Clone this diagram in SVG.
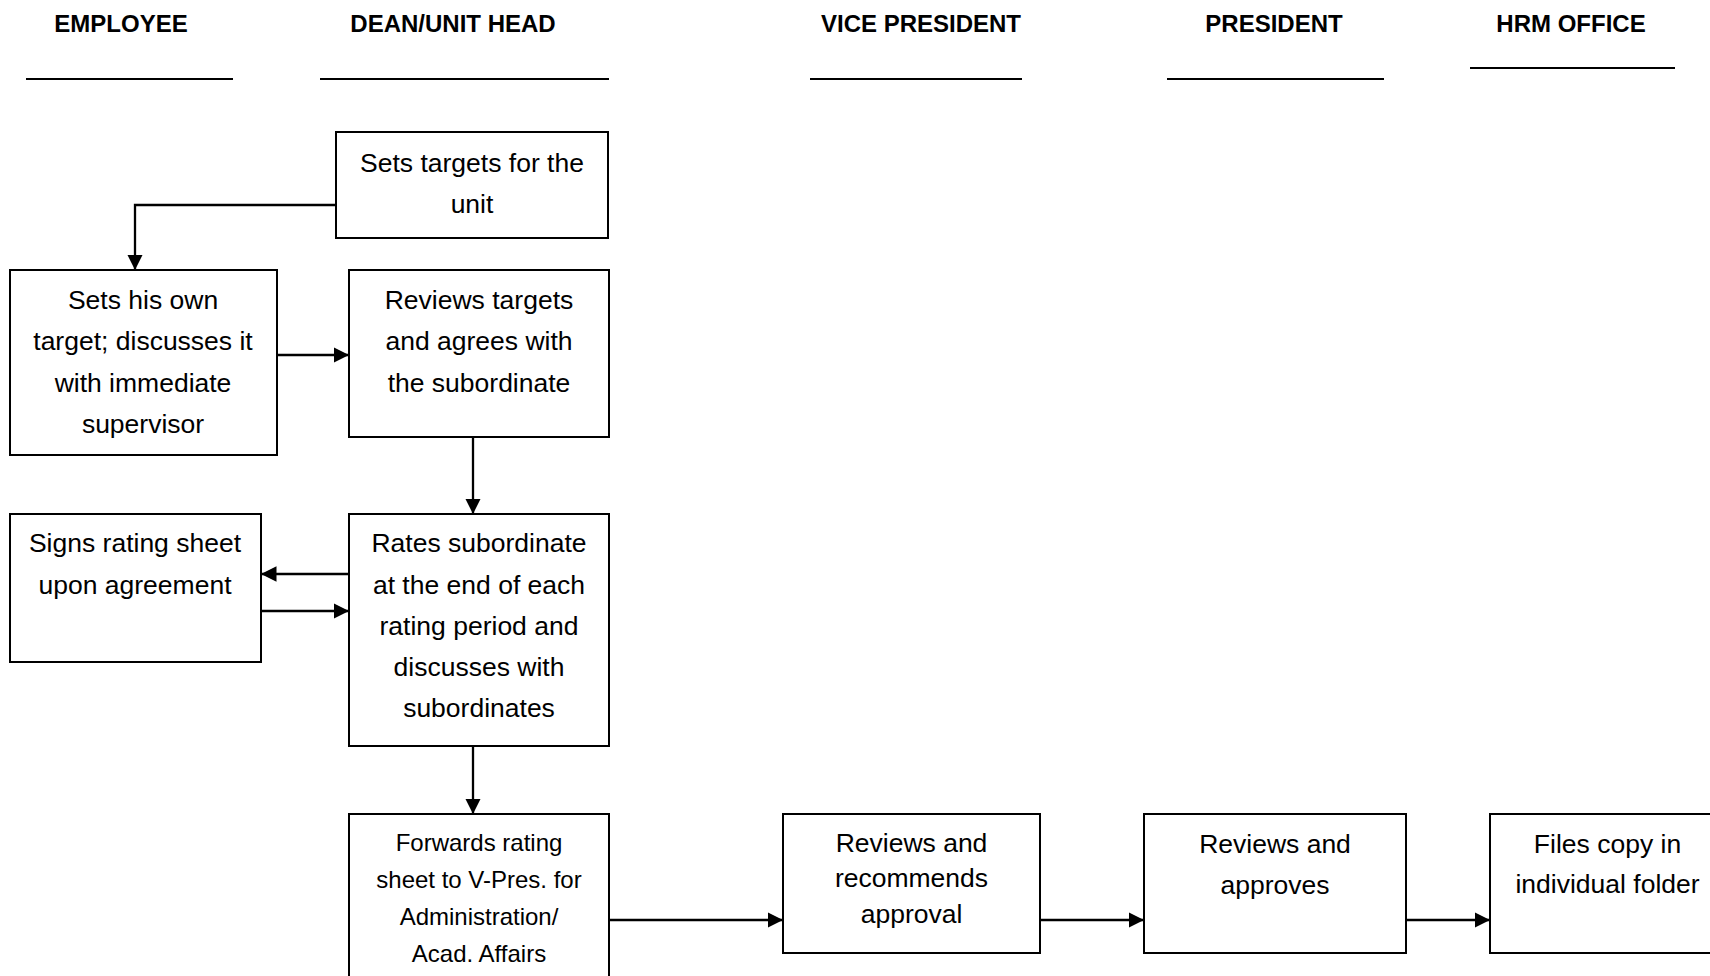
<svg xmlns="http://www.w3.org/2000/svg" width="1710" height="976" viewBox="0 0 1710 976">
  <style>
    .hdr { font-family: "Liberation Sans", Arial, sans-serif; font-weight: bold; font-size: 24px; fill: #000; text-anchor: middle; }
    .rule { stroke: #000; stroke-width: 2; }
    .box { fill: #fff; stroke: #000; stroke-width: 2; }
    .lbl { font-family: "Liberation Sans", Arial, sans-serif; font-size: 26.5px; fill: #000; text-anchor: middle; }
    .lbl-sm { font-size: 24px; }
    .conn { fill: none; stroke: #000; stroke-width: 2.3; marker-end: url(#arrow); }
  </style>
  <defs>
    <marker id="arrow" markerUnits="userSpaceOnUse" markerWidth="16" markerHeight="16" refX="15.5" refY="7.75" orient="auto">
      <path d="M0,0 L15.5,7.75 L0,15.5 Z" fill="#000"/>
    </marker>
  </defs>
  <rect width="1710" height="976" fill="#fff"/>

  <!-- swimlane headings -->
  <g id="lanes">
    <text class="hdr" x="121" y="32">EMPLOYEE</text>
    <line class="rule" x1="26" y1="79" x2="233" y2="79"/>
    <text class="hdr" x="453" y="32">DEAN/UNIT HEAD</text>
    <line class="rule" x1="320" y1="79" x2="609" y2="79"/>
    <text class="hdr" x="921" y="32">VICE PRESIDENT</text>
    <line class="rule" x1="810" y1="79" x2="1022" y2="79"/>
    <text class="hdr" x="1274" y="32">PRESIDENT</text>
    <line class="rule" x1="1167" y1="79" x2="1384" y2="79"/>
    <text class="hdr" x="1571" y="32">HRM OFFICE</text>
    <line class="rule" x1="1470" y1="68" x2="1675" y2="68"/>
  </g>

  <!-- process steps -->
  <g id="set-unit-targets">
    <rect class="box" x="336" y="132" width="272" height="106"/>
    <text class="lbl" x="472" y="172">Sets targets for the</text>
    <text class="lbl" x="472" y="213">unit</text>
  </g>
  <g id="set-own-target">
    <rect class="box" x="10" y="270" width="267" height="185"/>
    <text class="lbl" x="143" y="309">Sets his own</text>
    <text class="lbl" x="143" y="350">target; discusses it</text>
    <text class="lbl" x="143" y="392">with immediate</text>
    <text class="lbl" x="143" y="433">supervisor</text>
  </g>
  <g id="review-targets">
    <rect class="box" x="349" y="270" width="260" height="167"/>
    <text class="lbl" x="479" y="309">Reviews targets</text>
    <text class="lbl" x="479" y="350">and agrees with</text>
    <text class="lbl" x="479" y="392">the subordinate</text>
  </g>
  <g id="sign-rating-sheet">
    <rect class="box" x="10" y="514" width="251" height="148"/>
    <text class="lbl" x="135" y="552">Signs rating sheet</text>
    <text class="lbl" x="135" y="594">upon agreement</text>
  </g>
  <g id="rate-subordinate">
    <rect class="box" x="349" y="514" width="260" height="232"/>
    <text class="lbl" x="479" y="552">Rates subordinate</text>
    <text class="lbl" x="479" y="594">at the end of each</text>
    <text class="lbl" x="479" y="635">rating period and</text>
    <text class="lbl" x="479" y="676">discusses with</text>
    <text class="lbl" x="479" y="717">subordinates</text>
  </g>
  <g id="forward-rating-sheet">
    <rect class="box" x="349" y="814" width="260" height="180"/>
    <text class="lbl lbl-sm" x="479" y="851">Forwards rating</text>
    <text class="lbl lbl-sm" x="479" y="888">sheet to V-Pres. for</text>
    <text class="lbl lbl-sm" x="479" y="925">Administration/</text>
    <text class="lbl lbl-sm" x="479" y="962">Acad. Affairs</text>
  </g>
  <g id="vp-review">
    <rect class="box" x="783" y="814" width="257" height="139"/>
    <text class="lbl" x="911.5" y="852">Reviews and</text>
    <text class="lbl" x="911.5" y="887">recommends</text>
    <text class="lbl" x="911.5" y="923">approval</text>
  </g>
  <g id="president-approval">
    <rect class="box" x="1144" y="814" width="262" height="139"/>
    <text class="lbl" x="1275" y="853">Reviews and</text>
    <text class="lbl" x="1275" y="894">approves</text>
  </g>
  <g id="hrm-filing">
    <rect class="box" x="1490" y="814" width="235" height="139"/>
    <text class="lbl" x="1607.5" y="853">Files copy in</text>
    <text class="lbl" x="1607.5" y="893">individual folder</text>
  </g>

  <!-- flow connectors -->
  <g id="connectors">
    <path class="conn" d="M336,205 H135 V270"/>
    <path class="conn" d="M277,355 H349"/>
    <path class="conn" d="M473,437 V514"/>
    <path class="conn" d="M349,574 H261"/>
    <path class="conn" d="M261,611 H349"/>
    <path class="conn" d="M473,746 V814"/>
    <path class="conn" d="M609,920 H783"/>
    <path class="conn" d="M1040,920 H1144"/>
    <path class="conn" d="M1406,920 H1490"/>
  </g>
</svg>
